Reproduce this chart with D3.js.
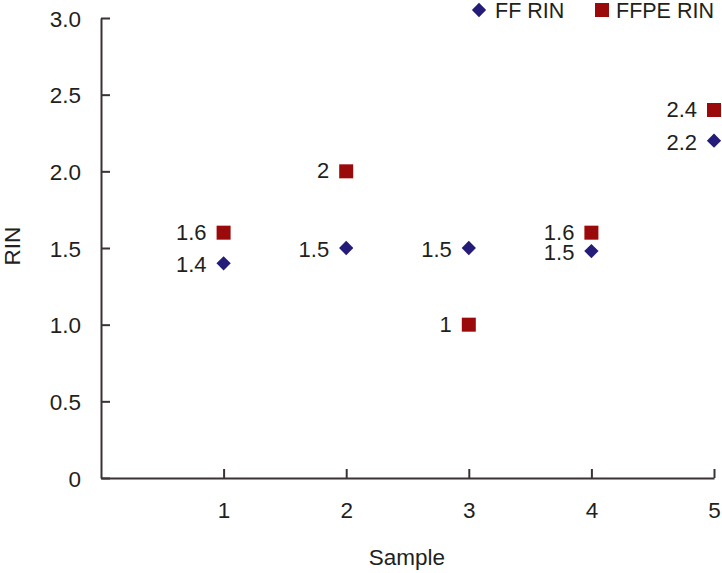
<!DOCTYPE html>
<html>
<head>
<meta charset="utf-8">
<script src="https://cdn.jsdelivr.net/npm/d3@7"></script>
<style>
  body { margin: 0; background: #fff; }
  svg text { font-family: "Liberation Sans", Arial, sans-serif; fill: #231f20; }
</style>
</head>
<body>
<svg id="chart" width="722" height="573"></svg>
<script>
const samples = [1, 2, 3, 4, 5];
const ffRin = [1.4, 1.5, 1.5, 1.48, 2.2];
const ffLabels = ['1.4', '1.5', '1.5', '1.5', '2.2'];
const ffpeRin = [1.6, 2.0, 1.0, 1.6, 2.4];
const ffpeLabels = ['1.6', '2', '1', '1.6', '2.4'];
const yTicks = [0, 0.5, 1.0, 1.5, 2.0, 2.5, 3.0];
const yTickLabels = ['0', '0.5', '1.0', '1.5', '2.0', '2.5', '3.0'];

const ffColor = '#241c78';
const ffpeColor = '#9b0a0a';
const axisColor = '#3a3334';

const svg = d3.select('#chart');
const x = d3.scaleLinear().domain([0, 5]).range([101, 714]);
const y = d3.scaleLinear().domain([0, 3]).range([478, 18]);

// axes, ticks pointing inward
const yAxis = d3.axisLeft(y)
  .tickValues(yTicks)
  .tickFormat((d, i) => yTickLabels[i])
  .tickSizeInner(-9)
  .tickSizeOuter(0)
  .tickPadding(20);
const gy = svg.append('g').attr('transform', 'translate(101,0)').call(yAxis);

const xAxis = d3.axisBottom(x)
  .tickValues(samples)
  .tickFormat(d3.format('d'))
  .tickSizeInner(-9)
  .tickSizeOuter(0)
  .tickPadding(24);
const gx = svg.append('g').attr('transform', 'translate(0,478)').call(xAxis);

[gx, gy].forEach(g => {
  g.selectAll('path, line').attr('stroke', axisColor).attr('stroke-width', 2);
  g.selectAll('text').attr('font-size', 22.5).attr('fill', '#231f20')
    .style('font-family', '"Liberation Sans", Arial, sans-serif');
});
gy.selectAll('text').attr('dy', '0.36em');
gx.selectAll('text').attr('dy', '0.71em');

// axis titles
svg.append('text')
  .attr('transform', 'translate(20,246) rotate(-90)')
  .attr('text-anchor', 'middle')
  .attr('font-size', 22.5)
  .text('RIN');
svg.append('text')
  .attr('x', 407).attr('y', 565)
  .attr('text-anchor', 'middle')
  .attr('font-size', 22.5)
  .text('Sample');

const diamond = d3.symbol().type(d3.symbolDiamond2).size(130);

// FFPE squares
const sq = 14;
svg.append('g').selectAll('rect')
  .data(samples)
  .join('rect')
  .attr('x', (d) => x(d) - sq / 2)
  .attr('y', (d, i) => y(ffpeRin[i]) - sq / 2)
  .attr('width', sq).attr('height', sq)
  .attr('fill', ffpeColor);

// FF diamonds
svg.append('g').selectAll('path')
  .data(samples)
  .join('path')
  .attr('d', diamond)
  .attr('transform', (d, i) => `translate(${x(d)},${y(ffRin[i])})`)
  .attr('fill', ffColor);

// value labels
svg.append('g').selectAll('text')
  .data(samples)
  .join('text')
  .attr('x', (d) => x(d) - 17)
  .attr('y', (d, i) => y(ffpeRin[i]) - 1)
  .attr('dy', '0.36em')
  .attr('text-anchor', 'end')
  .attr('font-size', 22)
  .text((d, i) => ffpeLabels[i]);
svg.append('g').selectAll('text')
  .data(samples)
  .join('text')
  .attr('x', (d) => x(d) - 17)
  .attr('y', (d, i) => y(ffRin[i]) + 1)
  .attr('dy', '0.36em')
  .attr('text-anchor', 'end')
  .attr('font-size', 22)
  .text((d, i) => ffLabels[i]);

// legend
const legend = svg.append('g');
legend.append('path')
  .attr('d', diamond)
  .attr('transform', 'translate(479,10)')
  .attr('fill', ffColor);
legend.append('text')
  .attr('x', 495).attr('y', 18)
  .attr('font-size', 21.5)
  .text('FF RIN');
legend.append('rect')
  .attr('x', 595).attr('y', 3)
  .attr('width', 14).attr('height', 14)
  .attr('fill', ffpeColor);
legend.append('text')
  .attr('x', 616).attr('y', 18)
  .attr('font-size', 21.5)
  .text('FFPE RIN');
</script>
</body>
</html>
